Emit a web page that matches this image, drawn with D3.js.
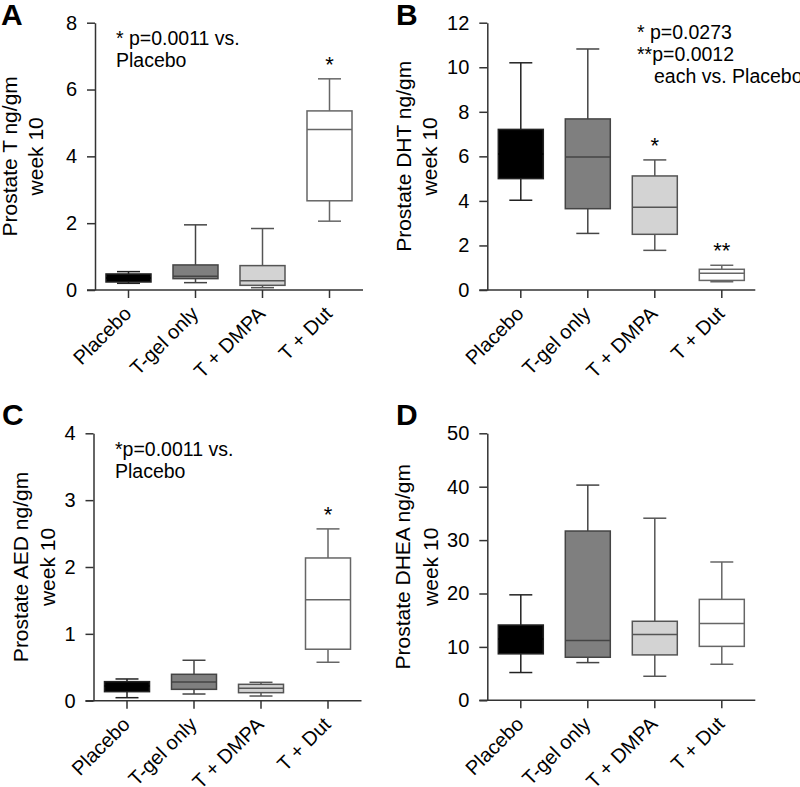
<!DOCTYPE html>
<html>
<head>
<meta charset="utf-8">
<script src="https://cdn.jsdelivr.net/npm/d3@7"></script>
<style>
  body { margin: 0; background: #fff; }
  text { font-family: Arial, "Liberation Sans", sans-serif; fill: #000; }
</style>
</head>
<body>
<script>
// groups on the x axis
const groups = ["Placebo", "T-gel only", "T + DMPA", "T + Dut"]

// box plot values per group: [whisker low, q1, median, q3, whisker high]
const prostateT = [
  [0.20, 0.24, 0.36, 0.48, 0.55],
  [0.22, 0.34, 0.41, 0.75, 1.95],
  [0.07, 0.14, 0.28, 0.73, 1.84],
  [2.06, 2.67, 4.80, 5.36, 6.32]
]
const prostateDHT = [
  [4.03, 5.00, 6.10, 7.21, 10.20],
  [2.54, 3.65, 5.97, 7.68, 10.82],
  [1.78, 2.50, 3.71, 5.12, 5.84],
  [0.37, 0.43, 0.75, 0.93, 1.11]
]
const prostateAED = [
  [0.045, 0.135, 0.22, 0.285, 0.325],
  [0.10, 0.17, 0.28, 0.395, 0.605],
  [0.07, 0.12, 0.185, 0.245, 0.275],
  [0.575, 0.77, 1.51, 2.135, 2.57]
]
const prostateDHEA = [
  [5.2, 8.7, 11.5, 14.1, 19.75],
  [7.06, 8.06, 11.2, 31.7, 40.3],
  [4.5, 8.5, 12.3, 14.8, 34.1],
  [6.75, 10.1, 14.4, 18.9, 25.9]
]

// significance marks above each box
const starsT = ["", "", "", "*"]
const starsDHT = ["", "", "*", "**"]
const starsAED = ["", "", "", "*"]
const starsDHEA = ["", "", "", ""]

// y axis ticks
const ticksT = [0, 2, 4, 6, 8]
const ticksDHT = [0, 2, 4, 6, 8, 10, 12]
const ticksAED = [0, 1, 2, 3, 4]
const ticksDHEA = [0, 10, 20, 30, 40, 50]

const fills = ["#000000", "#7f7f7f", "#d3d3d3", "#ffffff"]
const strokes = ["#222", "#444", "#555", "#666"]

const panels = [
  { letter: "A", data: prostateT, stars: starsT, ticks: ticksT, title: "Prostate T ng/gm",
    note: [["* p=0.0011 vs.", 0], ["Placebo", 0]], noteX: 116, noteY: 45,
    x0: 95, top: 22.7, bottom: 290, letterX: 1, letterY: 25, titleOff: [78, 52] },
  { letter: "B", data: prostateDHT, stars: starsDHT, ticks: ticksDHT, title: "Prostate DHT ng/gm",
    note: [["* p=0.0273", 0], ["**p=0.0012", 0], ["each vs. Placebo", 17]], noteX: 637, noteY: 39,
    x0: 487.3, top: 22.7, bottom: 290, letterX: 396, letterY: 25, titleOff: [76, 50] },
  { letter: "C", data: prostateAED, stars: starsAED, ticks: ticksAED, title: "Prostate AED ng/gm",
    note: [["*p=0.0011 vs.", 0], ["Placebo", 0]], noteX: 115, noteY: 456,
    x0: 93.5, top: 433.3, bottom: 700.7, letterX: 2, letterY: 425, titleOff: [66, 39] },
  { letter: "D", data: prostateDHEA, stars: starsDHEA, ticks: ticksDHEA, title: "Prostate DHEA ng/gm",
    note: [], noteX: 0, noteY: 0,
    x0: 487.3, top: 433.3, bottom: 700.3, letterX: 396, letterY: 425, titleOff: [77, 49] }
]

const BAND = 67
const BOX_W = 45
const CAP_W = 23
const TICK = 8

const svg = d3.select('body').append('svg')
  .attr('width', 800)
  .attr('height', 787)

panels.forEach(drawPanel)

function drawPanel(p) {
  const g = svg.append('g')

  const y = d3.scaleLinear()
    .domain([0, d3.max(p.ticks)])
    .range([p.bottom, p.top])

  const x = d3.scaleBand()
    .domain(groups)
    .range([p.x0, p.x0 + BAND * groups.length])

  const cx = d => x(d) + x.bandwidth() / 2

  // y axis
  const yAxis = d3.axisLeft(y)
    .tickValues(p.ticks)
    .tickFormat(d3.format('d'))
    .tickSize(TICK)
    .tickSizeOuter(0)
    .tickPadding(10)
  const ya = g.append('g')
    .attr('transform', 'translate(' + p.x0 + ',0)')
    .call(yAxis)
  ya.attr('font-family', null)
  ya.selectAll('text').style('font-size', '20px').attr('fill', '#000')
  ya.selectAll('line, path').attr('stroke', '#333').attr('stroke-width', 1.5)

  // x axis: line runs from the end of the y ticks to the last band
  const xAxis = d3.axisBottom(x)
    .tickSize(TICK)
    .tickSizeOuter(0)
    .tickFormat('')
  const xa = g.append('g')
    .attr('transform', 'translate(0,' + p.bottom + ')')
    .call(xAxis)
  xa.select('.domain').remove()
  xa.append('line')
    .attr('x1', p.x0 - TICK)
    .attr('x2', p.x0 + BAND * groups.length)
    .attr('stroke', '#333')
    .attr('stroke-width', 1.5)
  xa.selectAll('line').attr('stroke', '#333').attr('stroke-width', 1.5)

  // rotated category labels
  g.selectAll('.xlab')
    .data(groups)
    .enter().append('text')
    .attr('class', 'xlab')
    .attr('text-anchor', 'end')
    .style('font-size', '20px')
    .attr('transform', d => 'translate(' + (cx(d) + 4) + ',' + (p.bottom + 25) + ') rotate(-45)')
    .text(d => d)

  // boxes
  const box = g.selectAll('.box')
    .data(p.data)
    .enter().append('g')
    .attr('class', 'box')

  box.each(function (d, i) {
    const b = d3.select(this)
    const c = cx(groups[i])
    const col = strokes[i]
    // whiskers
    b.append('line')
      .attr('x1', c).attr('x2', c)
      .attr('y1', y(d[0])).attr('y2', y(d[1]))
      .attr('stroke', col).attr('stroke-width', 1.5)
    b.append('line')
      .attr('x1', c).attr('x2', c)
      .attr('y1', y(d[3])).attr('y2', y(d[4]))
      .attr('stroke', col).attr('stroke-width', 1.5)
    ;[d[0], d[4]].forEach(v => {
      b.append('line')
        .attr('x1', c - CAP_W / 2).attr('x2', c + CAP_W / 2)
        .attr('y1', y(v)).attr('y2', y(v))
        .attr('stroke', col).attr('stroke-width', 1.5)
    })
    b.append('rect')
      .attr('x', c - BOX_W / 2)
      .attr('width', BOX_W)
      .attr('y', y(d[3]))
      .attr('height', y(d[1]) - y(d[3]))
      .attr('fill', fills[i])
      .attr('stroke', col).attr('stroke-width', 1.5)
    b.append('line')
      .attr('x1', c - BOX_W / 2).attr('x2', c + BOX_W / 2)
      .attr('y1', y(d[2])).attr('y2', y(d[2]))
      .attr('stroke', i === 0 ? '#000' : col).attr('stroke-width', 1.5)
    if (p.stars[i]) {
      b.append('text')
        .attr('x', c)
        .attr('y', y(d[4]) - 7)
        .attr('text-anchor', 'middle')
        .style('font-size', '22px')
        .text(p.stars[i])
    }
  })

  // axis title, two lines
  const midY = (p.top + p.bottom) / 2
  ;[p.title, 'week 10'].forEach((t, k) => {
    g.append('text')
      .attr('text-anchor', 'middle')
      .style('font-size', '21px')
      .attr('transform', 'translate(' + (p.x0 - p.titleOff[k]) + ',' + midY + ') rotate(-90)')
      .text(t)
  })

  // note
  p.note.forEach((n, k) => {
    g.append('text')
      .attr('x', p.noteX + n[1])
      .attr('y', p.noteY + k * 22)
      .style('font-size', '19.5px')
      .text(n[0])
  })

  // panel letter
  g.append('text')
    .attr('x', p.letterX)
    .attr('y', p.letterY)
    .style('font-size', '30px')
    .style('font-weight', 'bold')
    .text(p.letter)
}
</script>
</body>
</html>
